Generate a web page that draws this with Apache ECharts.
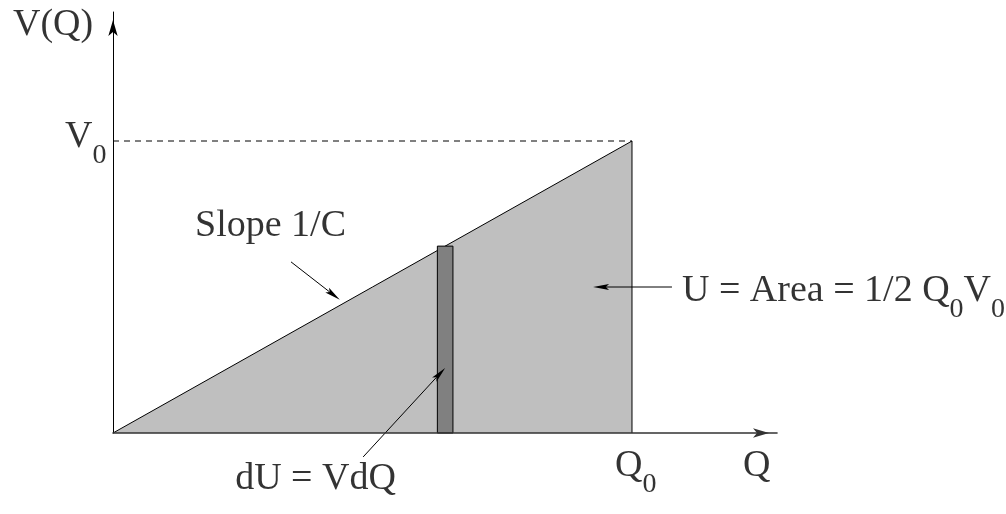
<!DOCTYPE html>
<html>
<head>
<meta charset="utf-8">
<script src="https://cdn.jsdelivr.net/npm/echarts@6/dist/echarts.min.js"></script>
<style>
  html, body { margin: 0; padding: 0; background: #fff; }
  #chart { width: 1006px; height: 514px; }
</style>
</head>
<body>
<div id="chart"></div>
<script>
// Energy stored in a capacitor: V rises linearly with Q (slope 1/C),
// the stored energy is the area under V(Q).
const Q0 = 1;                      // final charge
const V0 = 1;                      // final voltage
const chargeLine = [[0, 0], [Q0, V0], [Q0, 0]];   // V(Q) up to Q0, closed down to the axis
const levelLine = [[0, V0], [Q0, V0]];            // dashed guide at V0
const stripQ = 0.64;               // charge where the thin strip dQ sits
const stripDQ = 0.03;              // width of the strip
const stripV = V0 * stripQ / Q0;   // voltage at that charge
const qMax = 1.2794;               // end of the Q axis
const vMax = 1.4418;               // end of the V axis

// Callout arrows, from the text toward the feature it names
const callouts = [
  { text: 'Slope 1/C',              from: [0.343, 0.586],  to: [0.437, 0.456] },
  { text: 'U = Area = 1/2 Q_0V_0',  from: [1.077, 0.500],  to: [0.925, 0.500] },
  { text: 'dU = VdQ',               from: [0.482, -0.082], to: [0.640, 0.223] }
];

// Text items: anchored to a point, shifted by a pixel offset
const texts = [
  { text: 'V(Q)',      at: [0, vMax],        offset: [-100, -6] },
  { text: 'V_0',       at: [0, V0],          offset: [-48, -22.6] },
  { text: 'Q_0',       at: [Q0, 0],          offset: [-17, 14.5] },
  { text: 'Q',         at: [qMax, 0],        offset: [-34, 14.5] },
  { text: callouts[0].text, at: callouts[0].from, offset: [-96, -55] },
  { text: callouts[1].text, at: callouts[1].from, offset: [10, -14.6] },
  { text: callouts[2].text, at: callouts[2].from, offset: [-128, 3.5] }
];

const SERIF = 'Liberation Serif';

// "Q_0" -> rich text with the digit set as a subscript
function toRich(str) {
  const parts = str.split(/_(\w)/);
  let out = '';
  parts.forEach((p, i) => {
    if (!p) return;
    out += (i % 2 === 1) ? '{s|' + p + '}' : '{m|' + p + '}';
  });
  return out;
}

const richStyles = {
  m: { fontFamily: SERIF, fontSize: 38, lineHeight: 38, verticalAlign: 'top', color: '#000' },
  s: { fontFamily: SERIF, fontSize: 28, lineHeight: 28, verticalAlign: 'top', color: '#000',
       padding: [23, 0, 0, 0] }
};

const chart = echarts.init(document.getElementById('chart'), null, { renderer: 'canvas' });

const axisCommon = {
  type: 'value',
  z: 10,
  axisTick: { show: false },
  axisLabel: { show: false },
  splitLine: { show: false },
  axisLine: {
    show: true,
    symbol: ['none', 'arrow'],
    symbolSize: [7, 16],
    symbolOffset: [0, -8],
    lineStyle: { color: '#000', width: 1 }
  }
};

chart.setOption({
  animation: false,
  backgroundColor: '#fff',
  grid: { left: 113, right: 229, top: 12, bottom: 81, containLabel: false },
  xAxis: Object.assign({}, axisCommon, { min: 0, max: qMax,
    axisLine: Object.assign({}, axisCommon.axisLine, { lineStyle: { color: '#333', width: 1.6 } }) }),
  yAxis: Object.assign({}, axisCommon, { min: 0, max: vMax }),
  series: [
    {
      // V(Q) = Q / C, shaded area = stored energy
      type: 'line',
      z: 2,
      data: chargeLine,
      symbol: 'none',
      lineStyle: { color: '#000', width: 1 },
      areaStyle: { color: '#bfbfbf', opacity: 1 },
      silent: true
    },
    {
      // level of V0
      type: 'line',
      z: 2,
      data: levelLine,
      symbol: 'none',
      lineStyle: { color: '#000', width: 1, type: [6, 5] },
      silent: true
    },
    {
      // thin strip dQ, height V
      type: 'custom',
      z: 6,
      data: [[stripQ, stripV, stripDQ]],
      encode: { x: 0, y: 1 },
      renderItem(params, api) {
        const q = api.value(0), v = api.value(1), dq = api.value(2);
        const p0 = api.coord([q - dq / 2, 0]);
        const p1 = api.coord([q + dq / 2, v]);
        return {
          type: 'rect',
          shape: { x: p0[0], y: p1[1], width: p1[0] - p0[0], height: p0[1] - p1[1] },
          style: { fill: '#808080', stroke: '#000', lineWidth: 1 }
        };
      },
      silent: true
    },
    {
      // callout arrows
      type: 'custom',
      z: 7,
      data: callouts.map(c => [c.from[0], c.from[1], c.to[0], c.to[1]]),
      encode: { x: [0, 2], y: [1, 3] },
      renderItem(params, api) {
        const a = api.coord([api.value(0), api.value(1)]);
        const b = api.coord([api.value(2), api.value(3)]);
        const dx = b[0] - a[0], dy = b[1] - a[1];
        const len = Math.hypot(dx, dy);
        const ux = dx / len, uy = dy / len;
        const nx = -uy, ny = ux;
        const L = 16, W = 6, notch = 0.8 * L;
        const back = [b[0] - ux * L, b[1] - uy * L];
        const mid = [b[0] - ux * notch, b[1] - uy * notch];
        return {
          type: 'group',
          children: [
            { type: 'line', shape: { x1: a[0], y1: a[1], x2: mid[0], y2: mid[1] },
              style: { stroke: '#000', lineWidth: 1 } },
            { type: 'polygon',
              shape: { points: [b, [back[0] + nx * W / 2, back[1] + ny * W / 2], mid,
                                [back[0] - nx * W / 2, back[1] - ny * W / 2]] },
              style: { fill: '#000' } }
          ]
        };
      },
      silent: true
    },
    {
      // text items
      type: 'scatter',
      clip: false,
      symbolSize: 1,
      itemStyle: { color: 'rgba(0,0,0,0)' },
      silent: true,
      z: 20,
      data: texts.map(t => ({
        value: t.at,
        label: {
          show: true,
          position: 'inside',
          align: 'left',
          verticalAlign: 'top',
          offset: t.offset,
          formatter: toRich(t.text),
          rich: richStyles
        }
      }))
    }
  ]
});
</script>
</body>
</html>
